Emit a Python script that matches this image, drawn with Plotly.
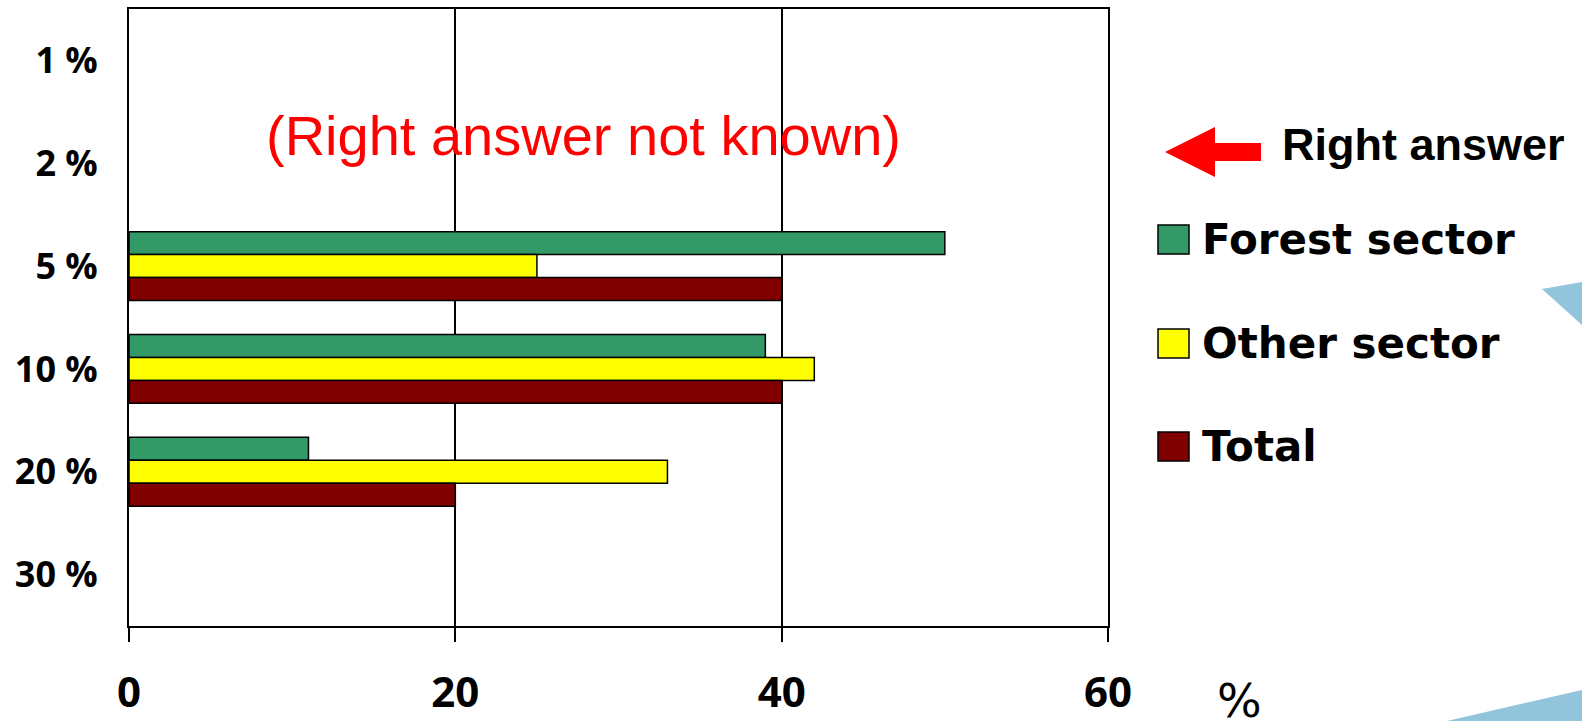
import plotly.graph_objects as go

# ---- data ----
categories = ["1 %", "2 %", "5 %", "10 %", "20 %", "30 %"]
bar_categories = ["5 %", "10 %", "20 %"]
forest_sector = [50, 39, 11]
other_sector = [25, 42, 33]
total = [40, 40, 20]
series_names = ["Forest sector", "Other sector", "Total"]
series_colors = ["#339966", "#FFFF00", "#800000"]
x_ticks = [0, 20, 40, 60]

W, H = 1582, 721
L, R, T, B = 129, 474, 9, 95
PW, PH = W - L - R, H - T - B


def px(x):
    return (x - L) / PW


def py(y):
    return (H - B - y) / PH


fig = go.Figure()
for name, vals, col in zip(series_names, [forest_sector, other_sector, total], series_colors):
    fig.add_trace(go.Bar(
        y=bar_categories, x=vals, name=name, orientation="h",
        marker=dict(color=col, line=dict(color="black", width=1.5)),
        showlegend=False,
    ))

fig.update_layout(
    width=W, height=H,
    margin=dict(l=L, r=R, t=T, b=B, autoexpand=False),
    paper_bgcolor="white", plot_bgcolor="white",
    barmode="group", bargap=0.33, bargroupgap=0,
    xaxis=dict(
        range=[0, 60], tickvals=x_ticks, ticktext=[str(v) for v in x_ticks],
        showgrid=True, gridcolor="black", gridwidth=1.5,
        zeroline=False, showline=True, mirror=True, linecolor="black", linewidth=2,
        ticks="outside", ticklen=14, tickwidth=1.5, tickcolor="black",
        tickfont=dict(family="Open Sans", size=42, color="black", weight="bold"),
        ticklabelstandoff=15, automargin=False,
    ),
    yaxis=dict(
        type="category", categoryorder="array", categoryarray=categories,
        range=[5.5, -0.5], showgrid=False, zeroline=False,
        showline=True, mirror=True, linecolor="black", linewidth=2,
        ticks="", tickfont=dict(family="Open Sans", size=36, color="black", weight="bold"),
        ticklabelstandoff=22, automargin=False,
    ),
)

# ---- legend (manual) ----
leg_tops = [225, 329, 432]
for name, col, top in zip(series_names, series_colors, leg_tops):
    fig.add_shape(type="rect", xref="paper", yref="paper",
                  x0=px(1158), x1=px(1189), y0=py(top), y1=py(top + 29),
                  fillcolor=col, line=dict(color="black", width=1.5))
    fig.add_annotation(xref="paper", yref="paper", x=px(1200), y=py(top + 14),
                       xanchor="left", yanchor="middle", showarrow=False,
                       text=name, font=dict(family="DejaVu Sans", size=42, color="black", weight="bold"))

# ---- right answer arrow ----
arrow_pts = [(1165, 152), (1215, 127), (1215, 143), (1261, 143), (1261, 161), (1215, 161), (1215, 177)]
path = "M " + " L ".join(f"{px(x)},{py(y)}" for x, y in arrow_pts) + " Z"
fig.add_shape(type="path", xref="paper", yref="paper", path=path,
              fillcolor="#FF0000", line=dict(width=0))
fig.add_annotation(xref="paper", yref="paper", x=px(1280), y=py(144),
                   xanchor="left", yanchor="middle", showarrow=False,
                   text="Right answer", font=dict(family="Liberation Sans", size=45, color="black", weight="bold"))

fig.add_annotation(xref="paper", yref="paper", x=px(583), y=py(135),
                   xanchor="center", yanchor="middle", showarrow=False,
                   text="(Right answer not known)",
                   font=dict(family="Liberation Sans", size=56, color="#FF0000"))

fig.add_annotation(xref="paper", yref="paper", x=px(1239), y=py(700),
                   xanchor="center", yanchor="middle", showarrow=False,
                   text="%", font=dict(family="DejaVu Sans", size=47, color="black"))

# ---- decorative triangles ----
for pts in [[(1542, 289), (1582, 282), (1582, 325)], [(1447, 721), (1582, 690), (1582, 721)]]:
    p = "M " + " L ".join(f"{px(x)},{py(y)}" for x, y in pts) + " Z"
    fig.add_shape(type="path", xref="paper", yref="paper", path=p,
                  fillcolor="#92C5DC", line=dict(width=0), layer="below")

fig.write_html("out.html", config={"displayModeBar": False},
               post_script="document.body.style.margin='0';")
